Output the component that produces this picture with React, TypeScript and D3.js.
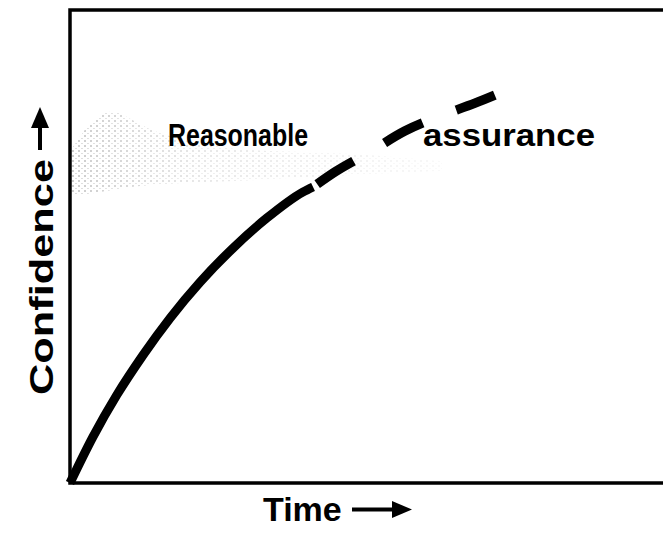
import React, { useEffect, useRef } from 'react';
import * as d3 from 'd3';

// Solid part of the confidence curve (time, confidence in %)
const solidTime = [0, 3.8, 7.8, 12.2, 16.7, 21.7, 27.2, 32.8, 38.8, 40.5];
const solidConf = [0, 9.7, 18.6, 27.1, 34.9, 42.5, 49.7, 56.0, 61.5, 62.6];

// Dashed continuation
const dashTime = [41.2, 44.2, 50, 55.8, 61.7, 67.5, 70.8];
const dashConf = [63.2, 65.8, 70, 74.4, 77.6, 80.3, 82];

// Shaded "reasonable assurance" band
const bandTime = [0, 3, 7, 12, 20, 30, 45, 62];
const bandLow = [61, 61, 62, 63, 63.5, 64, 65, 66];
const bandHigh = [70, 76, 80, 75, 72, 70, 70, 68];

const labelText = ['Reasonable', 'assurance'];
const xLabel = 'Time';
const yLabel = 'Confidence';

export default function App() {
  const svgRef = useRef<SVGSVGElement>(null);

  useEffect(() => {
    if (!svgRef.current) return;
    const svg = d3.select(svgRef.current);
    svg.selectAll('*').remove();

    const width = 663, height = 534;
    const margin = { top: 10, left: 70, bottom: 51 };

    const x = d3.scaleLinear().domain([0, 100]).range([margin.left, 670]);
    const y = d3.scaleLinear().domain([0, 100]).range([height - margin.bottom, margin.top]);

    // sparse halftone dots
    const defs = svg.append('defs');
    const pat = defs.append('pattern')
      .attr('id', 'dots')
      .attr('width', 6)
      .attr('height', 5)
      .attr('patternUnits', 'userSpaceOnUse');
    pat.append('circle').attr('cx', 1).attr('cy', 1).attr('r', 0.8).attr('fill', '#666');
    pat.append('circle').attr('cx', 4).attr('cy', 3.5).attr('r', 0.6).attr('fill', '#999');

    const grad = defs.append('linearGradient').attr('id', 'fade').attr('x1', 0).attr('x2', 1);
    grad.append('stop').attr('offset', '0%').attr('stop-color', '#fff').attr('stop-opacity', 0.75);
    grad.append('stop').attr('offset', '35%').attr('stop-color', '#fff').attr('stop-opacity', 0.35);
    grad.append('stop').attr('offset', '100%').attr('stop-color', '#fff').attr('stop-opacity', 0.1);
    defs.append('mask').attr('id', 'bandMask')
      .append('rect')
      .attr('x', x(0)).attr('y', 0)
      .attr('width', x(62) - x(0)).attr('height', height)
      .attr('fill', 'url(#fade)');

    const band = bandTime.map((t, i) => ({ t, lo: bandLow[i], hi: bandHigh[i] }));
    svg.append('path')
      .datum(band)
      .attr('d', d3.area<{ t: number; lo: number; hi: number }>()
        .x(d => x(d.t))
        .y0(d => y(d.lo))
        .y1(d => y(d.hi))
        .curve(d3.curveBasis))
      .attr('fill', 'url(#dots)')
      .attr('mask', 'url(#bandMask)');

    // frame (open on the right)
    svg.append('path')
      .attr('d', `M${width},${y(100)}H${x(0)}V${y(0)}H${width}`)
      .attr('fill', 'none')
      .attr('stroke', '#000')
      .attr('stroke-width', 3.5);

    const line = d3.line<number>()
      .x((_, i) => x(solidTime[i]))
      .y(d => y(d))
      .curve(d3.curveMonotoneX);

    svg.append('path')
      .datum(solidConf)
      .attr('d', line)
      .attr('fill', 'none')
      .attr('stroke', '#000')
      .attr('stroke-width', 9);

    const dashLine = d3.line<number>()
      .x((_, i) => x(dashTime[i]))
      .y(d => y(d))
      .curve(d3.curveMonotoneX);

    svg.append('path')
      .datum(dashConf)
      .attr('d', dashLine)
      .attr('fill', 'none')
      .attr('stroke', '#000')
      .attr('stroke-width', 9.5)
      .attr('stroke-dasharray', '43 36');

    const font = 'Liberation Sans, Arial, Helvetica, sans-serif';

    svg.append('text')
      .attr('x', 168)
      .attr('y', 146)
      .attr('font-family', font)
      .attr('font-weight', 'bold')
      .attr('font-size', 31)
      .attr('textLength', 140)
      .attr('lengthAdjust', 'spacingAndGlyphs')
      .text(labelText[0]);

    svg.append('text')
      .attr('x', 423)
      .attr('y', 146)
      .attr('font-family', font)
      .attr('font-weight', 'bold')
      .attr('font-size', 32)
      .attr('textLength', 172)
      .attr('lengthAdjust', 'spacingAndGlyphs')
      .text(labelText[1]);

    // x axis label with arrow
    svg.append('text')
      .attr('x', 263)
      .attr('y', 521)
      .attr('font-family', font)
      .attr('font-weight', 'bold')
      .attr('font-size', 34)
      .text(xLabel);
    svg.append('path')
      .attr('d', 'M352,509.5H396')
      .attr('stroke', '#000')
      .attr('stroke-width', 4);
    svg.append('path')
      .attr('d', 'M412,509.5L392,501L392,518Z')
      .attr('fill', '#000');

    // y axis label with arrow
    svg.append('text')
      .attr('transform', 'translate(53,395) rotate(-90)')
      .attr('font-family', font)
      .attr('font-weight', 'bold')
      .attr('font-size', 34)
      .attr('textLength', 236)
      .attr('lengthAdjust', 'spacingAndGlyphs')
      .text(yLabel);
    svg.append('path')
      .attr('d', 'M40,150V124')
      .attr('stroke', '#000')
      .attr('stroke-width', 4);
    svg.append('path')
      .attr('d', 'M40,107L31,128L49,128Z')
      .attr('fill', '#000');
  }, []);

  return (
    <div style={{ position: 'fixed', left: 0, top: 0, width: 663, height: 534, background: '#fff' }}>
      <svg ref={svgRef} width={663} height={534}></svg>
    </div>
  );
}
